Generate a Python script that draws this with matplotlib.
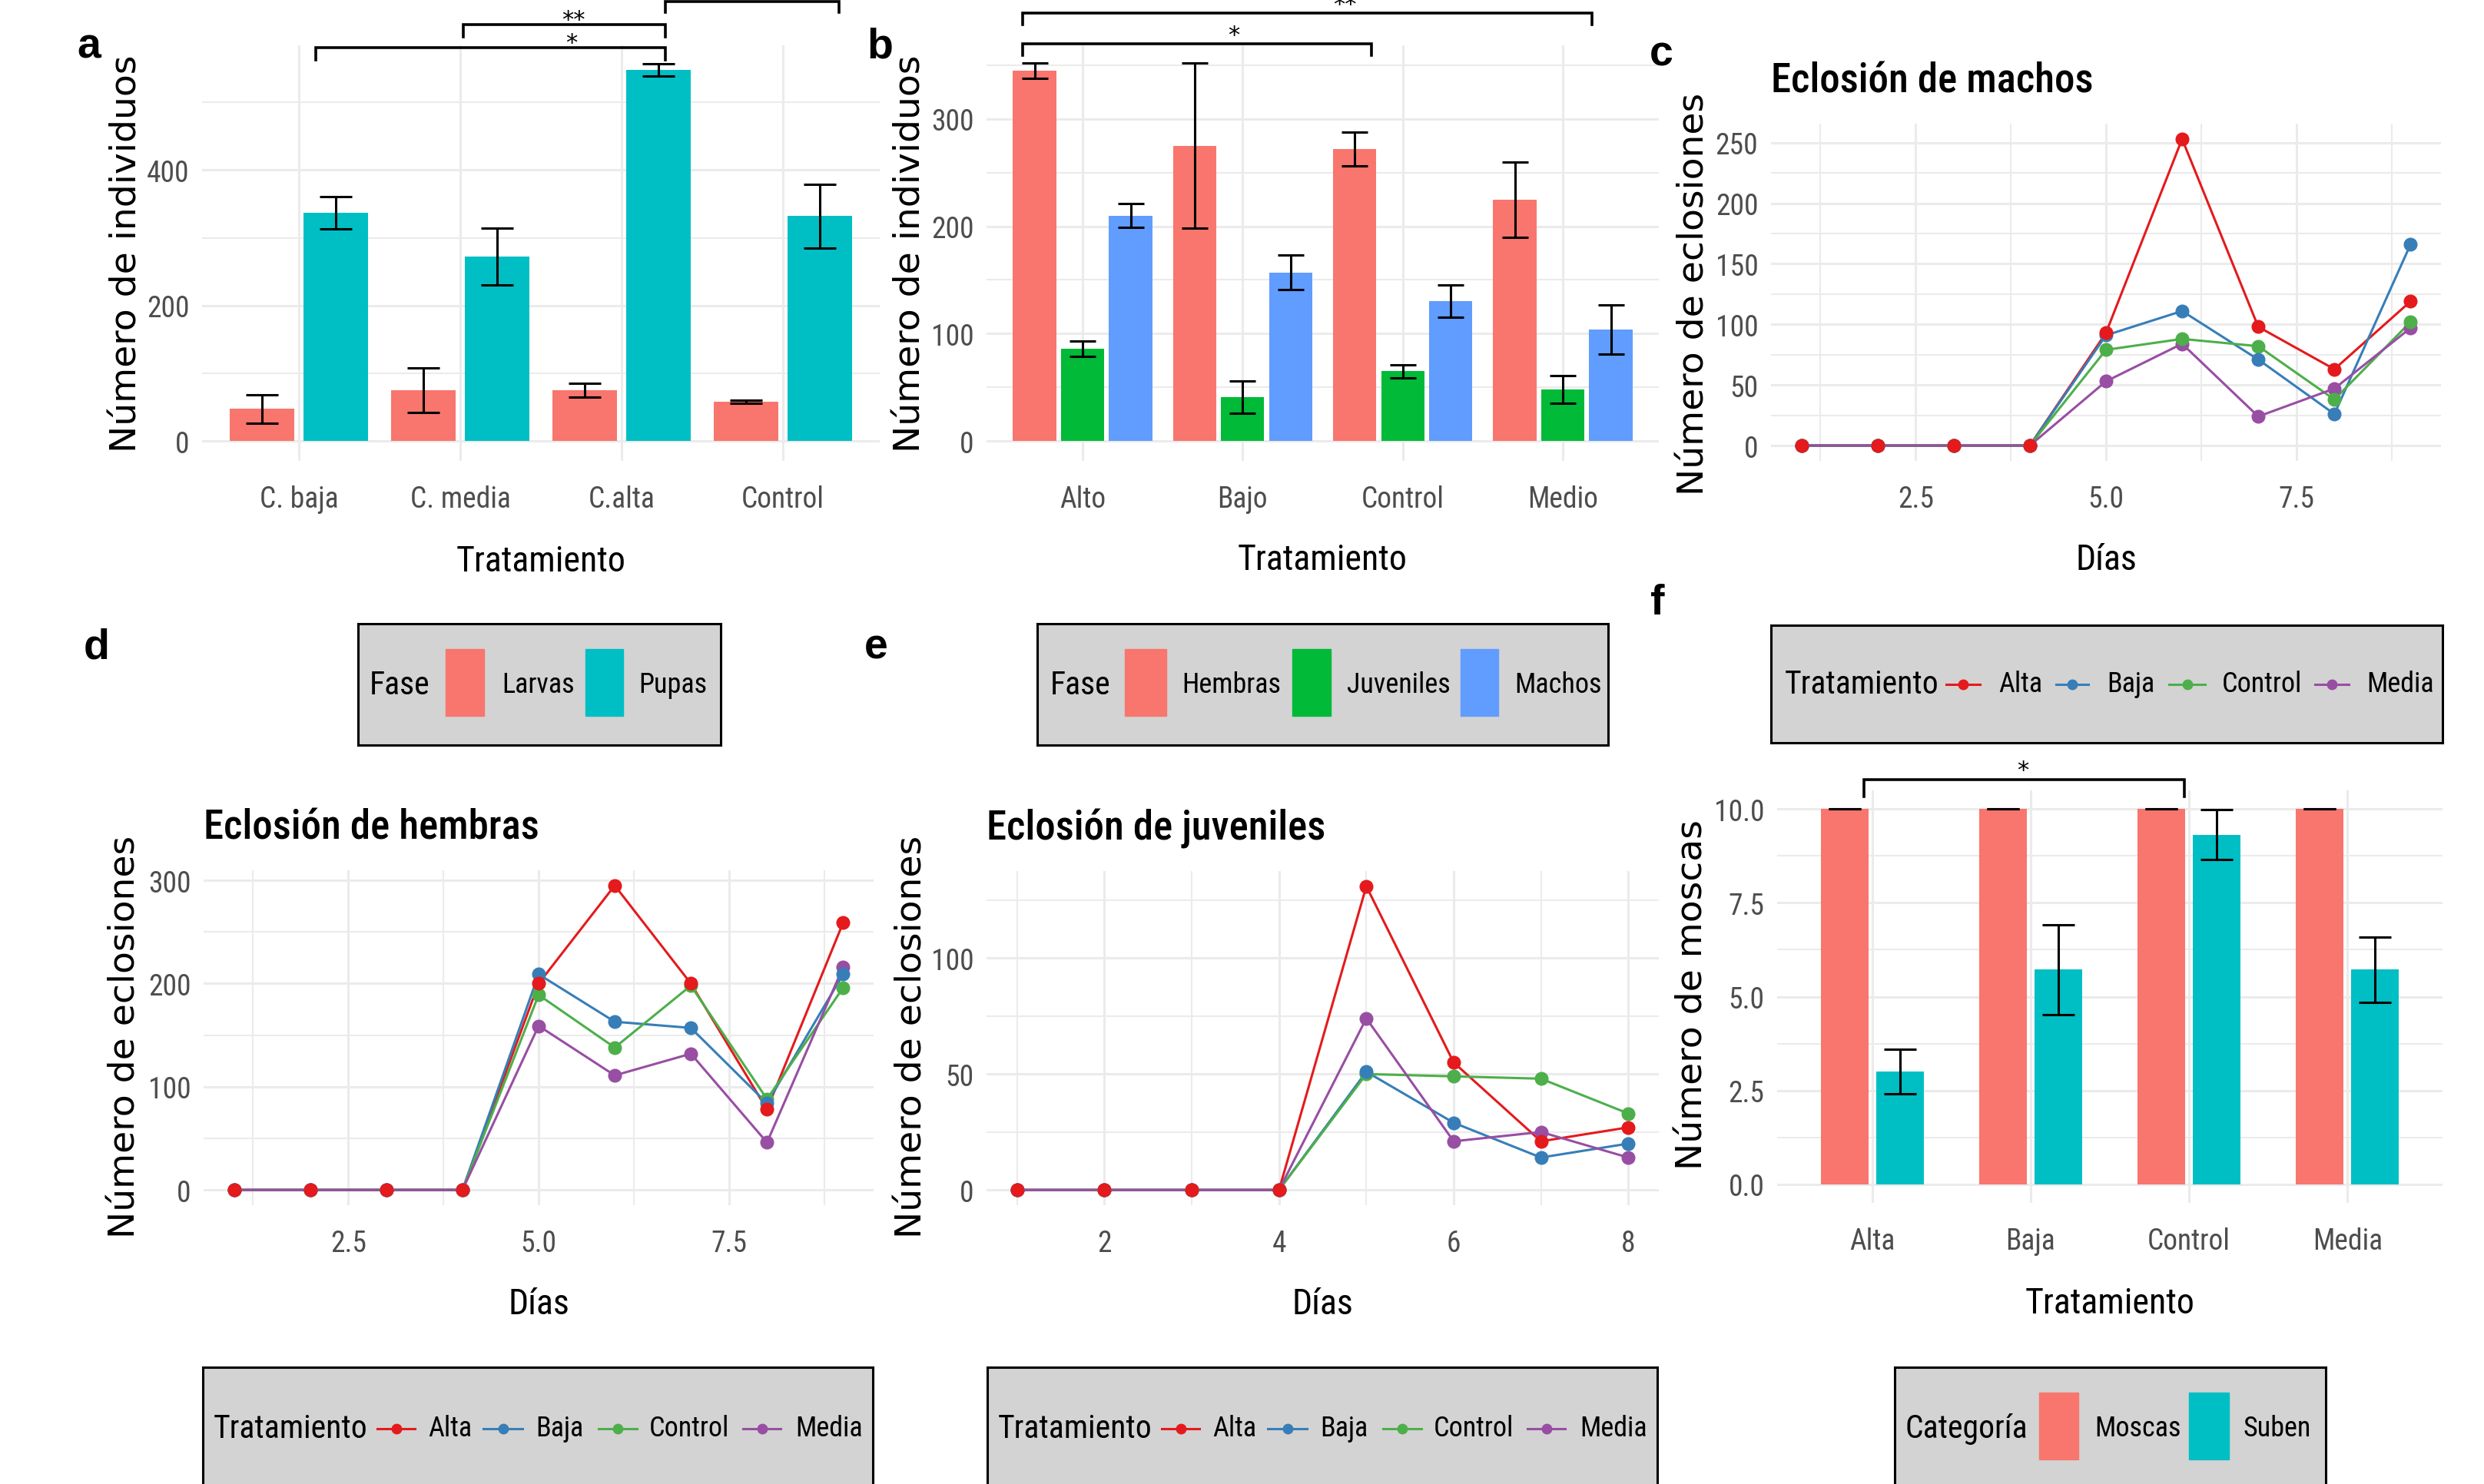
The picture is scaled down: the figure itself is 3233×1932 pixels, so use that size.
import os
import glob
import numpy as np
import matplotlib
matplotlib.use("Agg")
import matplotlib.pyplot as plt
from matplotlib import font_manager as fm
from matplotlib.patches import Rectangle
from matplotlib.ticker import MultipleLocator, NullLocator

# ---- data ----
treat_a = ["C. baja", "C. media", "C.alta", "Control"]
larvas = [48, 75, 75, 58]
larvas_se = [21, 33, 10, 2.5]
pupas = [337, 272, 548, 332]
pupas_se = [24, 42, 9, 47]

treat_b = ["Alto", "Bajo", "Control", "Medio"]
hembras = [345, 275, 272, 225]
hembras_se = [7, 77, 16, 35]
juveniles = [86, 41, 65, 48]
juveniles_se = [7, 15, 6, 13]
machos = [210, 157, 130, 104]
machos_se = [11, 16, 15, 23]

dias9 = [1, 2, 3, 4, 5, 6, 7, 8, 9]
dias8 = [1, 2, 3, 4, 5, 6, 7, 8]
trat = ["Alta", "Baja", "Control", "Media"]

# eclosion de machos
mach_alta = [0, 0, 0, 0, 93, 253, 98, 63, 119]
mach_baja = [0, 0, 0, 0, 91, 111, 71, 26, 166]
mach_control = [0, 0, 0, 0, 79, 88, 82, 38, 102]
mach_media = [0, 0, 0, 0, 53, 84, 24, 47, 97]

# eclosion de hembras
hem_alta = [0, 0, 0, 0, 200, 295, 200, 78, 259]
hem_baja = [0, 0, 0, 0, 209, 163, 157, 84, 209]
hem_control = [0, 0, 0, 0, 189, 138, 198, 88, 196]
hem_media = [0, 0, 0, 0, 159, 111, 132, 46, 216]

# eclosion de juveniles
juv_alta = [0, 0, 0, 0, 131, 55, 21, 27]
juv_baja = [0, 0, 0, 0, 51, 29, 14, 20]
juv_control = [0, 0, 0, 0, 50, 49, 48, 33]
juv_media = [0, 0, 0, 0, 74, 21, 25, 14]

moscas = [10, 10, 10, 10]
moscas_se = [0, 0, 0, 0]
suben = [3.0, 5.72, 9.32, 5.72]
suben_se = [0.6, 1.2, 0.67, 0.87]


# ---- fonts: look for a narrow / condensed face, else Roboto ----
def find_narrow():
    files = [f.fname for f in fm.fontManager.ttflist]
    for d in ["/usr/share/fonts", "/usr/local/share/fonts", os.path.expanduser("~/.fonts")]:
        files += glob.glob(os.path.join(d, "**", "*.[ot]tf"), recursive=True)
    prefs = ["LiberationSansNarrow-Regular", "NotoSans-Condensed.", "NotoSans-CondensedRegular",
             "RobotoCondensed-Regular", "Roboto_Condensed-Regular", "DejaVuSansCondensed.",
             "OpenSans_Condensed-Regular", "OpenSans-CondensedRegular"]
    for p in prefs:
        for f in files:
            if p in os.path.basename(f):
                return f
    for f in files:
        b = os.path.basename(f)
        if ("Condensed" in b or "Narrow" in b) and "Bold" not in b and "Italic" not in b \
                and "Extra" not in b and "Semi" not in b and "Light" not in b:
            return f
    return None


def find_heavier(regular):
    # same family, a heavier cut for the panel titles
    if not regular:
        return None
    d, b = os.path.split(regular)
    stem = b.replace("Regular", "").rsplit(".", 1)[0].rstrip("-")
    others = glob.glob(os.path.join(d, "*.[ot]tf"))
    for w in ["Medium", "SemiBold", "Bold"]:
        for f in others:
            n = os.path.basename(f)
            if n.startswith(stem) and w in n and "Italic" not in n \
                    and "Extra" not in n and (w == "SemiBold" or "Semi" not in n):
                return f
    return regular


NARROW_FILE = find_narrow()
TITLE_FILE = find_heavier(NARROW_FILE)


def nfont(size, fname=None):
    fname = fname or NARROW_FILE
    if fname:
        return fm.FontProperties(fname=fname, size=size)
    return fm.FontProperties(family=["Roboto", "DejaVu Sans"], size=size)


# ---- style ----
W, H = 3233, 1933
WIDE = ["DejaVu Sans"]
GRID = "#EBEBEB"
TICKC = "#4D4D4D"
C_ROJO, C_CIAN = "#F8766D", "#00BFC4"
C_VERDE, C_AZUL = "#00BA38", "#619CFF"
SET1 = ["#E41A1C", "#377EB8", "#4DAF4A", "#984EA3"]

fig = plt.figure(figsize=(W / 100, H / 100), dpi=100)


def add_ax(l, t, r, b):
    return fig.add_axes([l / W, 1 - b / H, (r - l) / W, (b - t) / H])


def fx(x):
    return x / W


def fy(y):
    return 1 - y / H


def style(ax, ymajor, yminor, xmajor=None, xminor=None):
    for s in ax.spines.values():
        s.set_visible(False)
    ax.yaxis.set_major_locator(MultipleLocator(ymajor))
    ax.yaxis.set_minor_locator(MultipleLocator(yminor))
    if xmajor is None:
        ax.xaxis.set_minor_locator(NullLocator())
    else:
        ax.xaxis.set_major_locator(MultipleLocator(xmajor))
        ax.xaxis.set_minor_locator(MultipleLocator(xminor))
    ax.grid(True, which="major", color=GRID, lw=2.2)
    ax.grid(True, which="minor", color=GRID, lw=1.5)
    ax.set_axisbelow(True)
    ax.tick_params(which="both", length=0, labelcolor=TICKC)
    ax.tick_params(axis="x", pad=22)
    ax.tick_params(axis="y", pad=12)


def tick_font(ax):
    for lab in ax.get_xticklabels() + ax.get_yticklabels():
        lab.set_fontproperties(nfont(27))


def bracket(ax, x0, x1, ytop, ybot, label, lx, off):
    ax.plot([x0, x0, x1, x1], [ybot, ytop, ytop, ybot], color="black",
            lw=2.6, clip_on=False, solid_joinstyle="miter")
    if label:
        ax.annotate(label, xy=(lx, ytop), xytext=(0, off), textcoords="offset points",
                    ha="center", va="baseline", fontsize=22, family=WIDE,
                    annotation_clip=False)


def labels(ylabel, ycx, ycy, xlabel, xcx, xbase):
    fig.text(fx(ycx), fy(ycy), ylabel, rotation=90, ha="center", va="center",
             fontsize=34, family=WIDE)
    fig.text(fx(xcx), fy(xbase), xlabel, ha="center", va="baseline",
             fontproperties=nfont(33))


def letter(ch, x, ybase):
    fig.text(fx(x), fy(ybase), ch, ha="center", va="baseline", fontsize=40,
             fontweight="bold", family=["Liberation Sans", "DejaVu Sans"])


def title(ax, txt):
    ax.set_title(txt, loc="left", fontproperties=nfont(38, TITLE_FILE), pad=30)


ebar = dict(fmt="none", ecolor="black", elinewidth=2.2, capthick=2.2, zorder=3)

# ---- a ----
ax = add_ax(263, 60, 1145, 601)
xa = np.arange(1, 5)
ax.bar(xa - 0.23, larvas, width=0.4, color=C_ROJO, zorder=2)
ax.bar(xa + 0.23, pupas, width=0.4, color=C_CIAN, zorder=2)
ax.errorbar(xa - 0.23, larvas, yerr=larvas_se, capsize=15, **ebar)
ax.errorbar(xa + 0.23, pupas, yerr=pupas_se, capsize=15, **ebar)
ax.set_xlim(0.4, 4.6)
ax.set_ylim(-29, 584)
style(ax, 200, 100)
ax.set_xticks(xa)
ax.set_xticklabels(treat_a)
tick_font(ax)
bracket(ax, 1.105, 3.27, 581, 562, "*", 2.69, -2)
bracket(ax, 2.02, 3.27, 615, 597, "**", 2.70, -2)
bracket(ax, 3.27, 4.35, 649, 633, "", 0, 0)
labels("Número de individuos", 165, 330, "Tratamiento", 704, 744)
letter("a", 116, 75)

# ---- b ----
ax = add_ax(1284, 60, 2159, 601)
xb = np.arange(1, 5)
ax.bar(xb - 0.3, hembras, width=0.27, color=C_ROJO, zorder=2)
ax.bar(xb, juveniles, width=0.27, color=C_VERDE, zorder=2)
ax.bar(xb + 0.3, machos, width=0.27, color=C_AZUL, zorder=2)
ax.errorbar(xb - 0.3, hembras, yerr=hembras_se, capsize=12, **ebar)
ax.errorbar(xb, juveniles, yerr=juveniles_se, capsize=12, **ebar)
ax.errorbar(xb + 0.3, machos, yerr=machos_se, capsize=12, **ebar)
ax.set_xlim(0.4, 4.6)
ax.set_ylim(-18.6, 368.6)
style(ax, 100, 50)
ax.set_xticks(xb)
ax.set_xticklabels(treat_b)
tick_font(ax)
bracket(ax, 0.625, 2.805, 370, 359, "*", 1.946, 2)
bracket(ax, 0.625, 4.18, 399, 388, "**", 2.64, 2)
labels("Número de individuos", 1185, 330, "Tratamiento", 1721, 742)
letter("b", 1145, 75)


def lines_panel(ax, dias, series):
    for serie, col in zip(series, SET1):
        ax.plot(dias, serie, color=col, lw=2.2, zorder=2)
    for serie, col in list(zip(series, SET1))[::-1]:
        ax.plot(dias, serie, "o", color=col, ms=12, zorder=3)


# ---- c ----
ax = add_ax(2305, 162, 3177, 601)
lines_panel(ax, dias9, [mach_alta, mach_baja, mach_control, mach_media])
ax.set_xlim(0.6, 9.4)
ax.set_ylim(-12.65, 265.65)
style(ax, 50, 25, 2.5, 1.25)
ax.set_xticks([2.5, 5.0, 7.5])
ax.set_xticklabels(["2.5", "5.0", "7.5"])
tick_font(ax)
title(ax, "Eclosión de machos")
labels("Número de eclosiones", 2205, 383, "Días", 2741, 742)
letter("c", 2162, 85)

# ---- d ----
ax = add_ax(265, 1134, 1137, 1570)
lines_panel(ax, dias9, [hem_alta, hem_baja, hem_control, hem_media])
ax.set_xlim(0.6, 9.4)
ax.set_ylim(-14.75, 309.75)
style(ax, 100, 50, 2.5, 1.25)
ax.set_xticks([2.5, 5.0, 7.5])
ax.set_xticklabels(["2.5", "5.0", "7.5"])
tick_font(ax)
title(ax, "Eclosión de hembras")
labels("Número de eclosiones", 163, 1350, "Días", 701, 1711)
letter("d", 126, 857)

# ---- e ----
ax = add_ax(1284, 1135, 2159, 1570)
lines_panel(ax, dias8, [juv_alta, juv_baja, juv_control, juv_media])
ax.set_xlim(0.65, 8.35)
ax.set_ylim(-6.55, 137.55)
style(ax, 50, 25, 2, 1)
ax.set_xticks([2, 4, 6, 8])
ax.set_xticklabels(["2", "4", "6", "8"])
tick_font(ax)
title(ax, "Eclosión de juveniles")
labels("Número de eclosiones", 1187, 1350, "Días", 1721, 1711)
letter("e", 1140, 857)

# ---- f ----
ax = add_ax(2313, 1030, 3179, 1567)
xf = np.arange(1, 5)
ax.bar(xf - 0.175, moscas, width=0.3, color=C_ROJO, zorder=2)
ax.bar(xf + 0.175, suben, width=0.3, color=C_CIAN, zorder=2)
ax.errorbar(xf - 0.175, moscas, yerr=moscas_se, capsize=15, **ebar)
ax.errorbar(xf + 0.175, suben, yerr=suben_se, capsize=15, **ebar)
ax.set_xlim(0.4, 4.6)
ax.set_ylim(-0.5, 10.5)
style(ax, 2.5, 1.25)
ax.set_xticks(xf)
ax.set_xticklabels(trat)
ax.set_yticks([0, 2.5, 5, 7.5, 10])
ax.set_yticklabels(["0.0", "2.5", "5.0", "7.5", "10.0"])
tick_font(ax)
bracket(ax, 0.947, 2.97, 10.78, 10.33, "*", 1.95, 3)
labels("Número de moscas", 2203, 1295, "Tratamiento", 2746, 1710)
letter("f", 2157, 800)


# ---- legends ----
def legend_box(l, t, r, b, ttl, title_x, kind, colors, names, keys, text_x):
    lax = add_ax(l, t, r, b)
    lax.set_xlim(l, r)
    lax.set_ylim(b, t)
    lax.set_facecolor("#D3D3D3")
    lax.set_xticks([])
    lax.set_yticks([])
    for s in lax.spines.values():
        s.set_linewidth(2.2)
        s.set_color("black")
    cy = (t + b) / 2
    lax.text(title_x, cy, ttl, ha="left", va="center", fontproperties=nfont(30))
    for col, name, (k0, k1), tx in zip(colors, names, keys, text_x):
        if kind == "fill":
            lax.add_patch(Rectangle((k0, t + 33), k1 - k0, 87, color=col))
        else:
            lax.plot([k0, k1], [cy, cy], color=col, lw=2.2)
            lax.plot([(k0 + k1) / 2], [cy], "o", color=col, ms=9)
        lax.text(tx, cy, name, ha="left", va="center", fontproperties=nfont(26))


legend_box(466, 813, 938, 971, "Fase", 481, "fill", [C_ROJO, C_CIAN],
           ["Larvas", "Pupas"], [(580, 630), (762, 811)], [653, 831])
legend_box(1350, 813, 2093, 971, "Fase", 1367, "fill", [C_ROJO, C_VERDE, C_AZUL],
           ["Hembras", "Juveniles", "Machos"],
           [(1464, 1518), (1682, 1732), (1901, 1950)], [1538, 1753, 1971])
legend_box(2305, 815, 3179, 968, "Tratamiento", 2323, "line", SET1, trat,
           [(2533, 2577), (2676, 2718), (2823, 2870), (3013, 3057)],
           [2601, 2742, 2892, 3080])
legend_box(264, 1781, 1136, 1940, "Tratamiento", 278, "line", SET1, trat,
           [(491, 540), (629, 680), (779, 829), (967, 1016)],
           [557, 697, 845, 1035])
legend_box(1285, 1781, 2157, 1940, "Tratamiento", 1299, "line", SET1, trat,
           [(1512, 1561), (1650, 1701), (1800, 1850), (1988, 2037)],
           [1578, 1718, 1866, 2056])
legend_box(2466, 1781, 3027, 1940, "Categoría", 2480, "fill", [C_ROJO, C_CIAN],
           ["Moscas", "Suben"], [(2654, 2705), (2849, 2901)], [2726, 2920])

fig.savefig("out.png", dpi=100)
